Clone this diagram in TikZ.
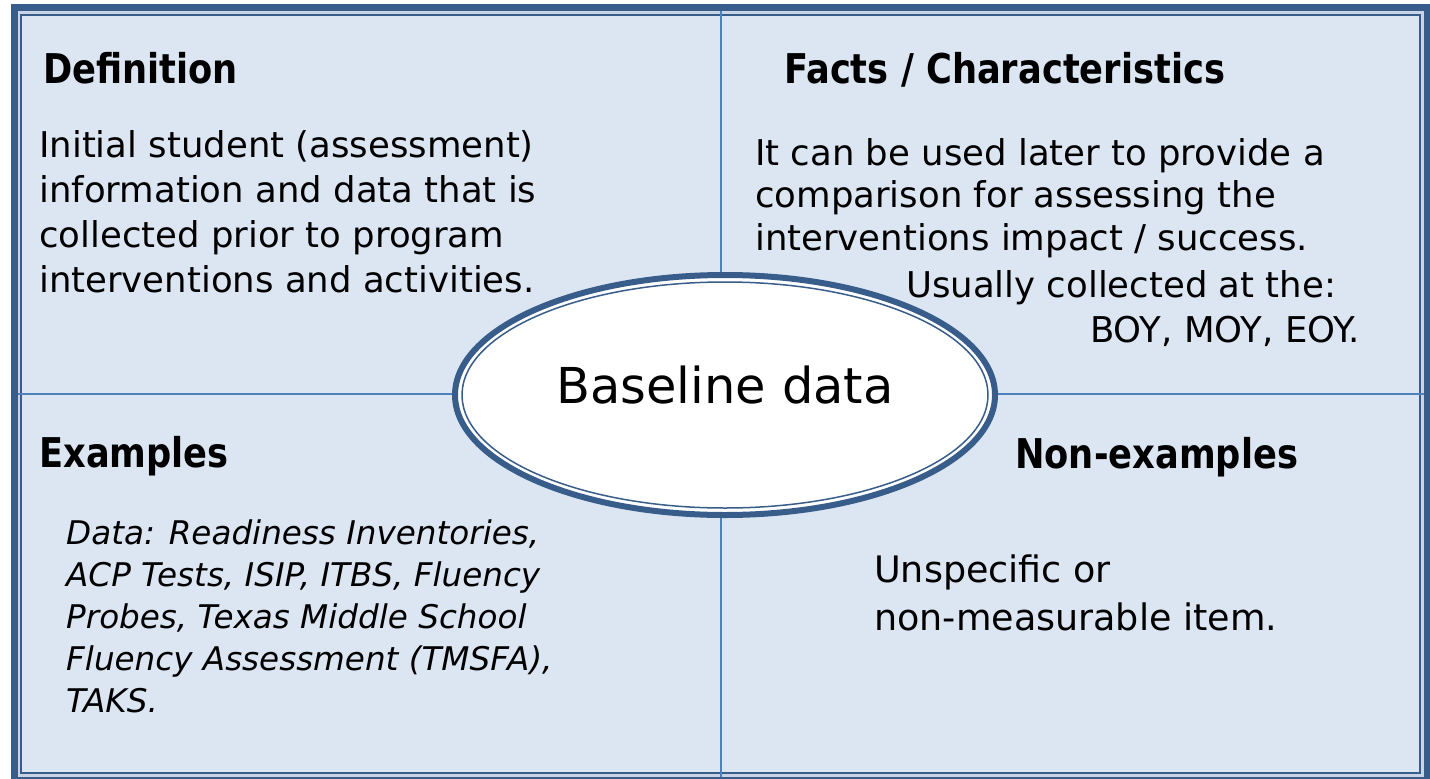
\documentclass[tikz,border=0pt]{standalone}
\usepackage{fontspec}
\setmainfont{DejaVu Sans}
\newfontfamily\headfont{DejaVu Sans}[FakeStretch=0.86]
\definecolor{frameblue}{HTML}{385D8A}
\definecolor{divblue}{HTML}{4F81BD}
\definecolor{panel}{HTML}{DCE6F2}
\definecolor{gapblue}{HTML}{C9D5E6}
\begin{document}
\begin{tikzpicture}[x=1pt,y=-1pt,
  heading/.style={font=\headfont\bfseries\fontsize{41}{48}\selectfont, anchor=base west, inner sep=0pt},
  body/.style={font=\fontsize{35.5}{45}\selectfont, anchor=base west, inner sep=0pt, align=left},
  ital/.style={font=\itshape\fontsize{32.6}{41.8}\selectfont, anchor=base west, inner sep=0pt, align=left},
  divider/.style={divblue, line width=2pt},
  outerframe/.style={frameblue, line width=7pt, fill=gapblue},
  innerframe/.style={frameblue, line width=2pt, fill=panel},
  ringthick/.style={frameblue, line width=6pt, fill=white},
  ringthin/.style={frameblue, line width=1.5pt}]
\useasboundingbox (0,0) rectangle (1430,779);
\fill[white] (0,0) rectangle (1430,779);
% frame
\draw[outerframe] (14.5,7.5) rectangle (1427.5,780.5);
\draw[innerframe] (21,14.5) rectangle (1420,773);
% dividers
\coordinate (vt) at (721,11);
\coordinate (vb) at (721,777);
\coordinate (hl) at (18,394);
\coordinate (hr) at (1424,394);
\draw[divider] (vt) -- (vb);
\draw[divider] (hl) -- (hr);
% central ellipse
\draw[ringthick] (725,395) ellipse [x radius=270, y radius=120];
\draw[ringthin] (725,395) ellipse [x radius=263, y radius=113];
\node[font=\fontsize{49.5}{58}\selectfont, anchor=base, inner sep=0pt] (core) at (725,403) {Baseline data};
% headings
\node[heading] (hdef) at (43,83) {Definition};
\node[heading] (hfacts) at (784,83) {Facts / Characteristics};
\node[heading] (hex) at (39,467) {Examples};
\node[heading] (hnon) at (1015,468) {Non-examples};
% definition text (base = last line)
\node[body] (tdef) at (39,292.5) {Initial student (assessment)\\information and data that is\\collected prior to program\\interventions and activities.};
% facts text
\node[body] (tf1) at (755,165) {It can be used later to provide a};
\node[body] (tf2) at (755,207) {comparison for assessing the};
\node[body] (tf3) at (755,250) {interventions impact / success.};
\node[body] (tf4) at (906,297) {Usually collected at the:};
\node[body] (tf5) at (1090,342) {BOY, MOY, EOY.};
% examples text (base = last line)
\node[ital] (tex) at (66,712) {Data: Readiness Inventories,\\ACP Tests, ISIP, ITBS, Fluency\\Probes, Texas Middle School\\Fluency Assessment (TMSFA),\\TAKS.};
% non-examples text (base = last line)
\node[body, font=\fontsize{36.5}{48}\selectfont] (tnon) at (874,630) {Unspecific or\\non-measurable item.};
\end{tikzpicture}
\end{document}
